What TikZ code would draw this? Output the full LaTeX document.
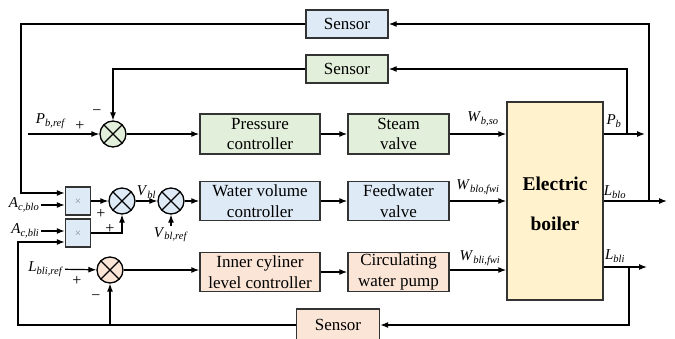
\documentclass[tikz,border=0pt]{standalone}
\usepackage{fontspec}
\setmainfont{Liberation Serif}
\usetikzlibrary{arrows.meta}

\newcommand{\sig}[2]{\textit{#1}\textsubscript{\textit{#2}}}

\definecolor{boxgreen}{RGB}{226,239,218}
\definecolor{boxblue}{RGB}{222,235,247}
\definecolor{boxorange}{RGB}{251,229,214}
\definecolor{boxyellow}{RGB}{255,242,204}

\begin{document}
\begin{tikzpicture}[x=1pt, y=-1pt, line width=1.2pt, >={Latex[length=8pt,width=6pt]},
		blk/.style={draw=black!80, line width=1.4pt, align=center, inner sep=0pt, minimum height=40pt, font=\fontsize{17}{20.5}\selectfont},
		sensor/.style={blk, minimum width=82pt, minimum height=28pt},
		sum/.style={circle, draw, line width=1.3pt, minimum size=26pt, inner sep=0pt,
			path picture={\draw[line width=1.2pt] (path picture bounding box.north west) -- (path picture bounding box.south east)
				(path picture bounding box.north east) -- (path picture bounding box.south west);}},
		mul/.style={draw=black!80, line width=1.4pt, fill=boxblue, minimum width=25pt, minimum height=28pt, inner sep=0pt, font=\small\color{black!60}},
		lbl/.style={font=\fontsize{15}{17}\selectfont, inner sep=1pt},
		sgn/.style={font=\fontsize{16}{16}\selectfont, inner sep=0pt}]
	\useasboundingbox (0,0) rectangle (675,338);

	\node[sensor, fill=boxblue] (sens1) at (347,24) {Sensor};
	\node[sensor, fill=boxgreen] (sens2) at (347,69) {Sensor};
	\node[sensor, fill=boxorange, minimum width=83pt, minimum height=32pt] (sens3) at (338,325) {Sensor};

	\node[blk, fill=boxyellow, minimum width=96pt, minimum height=198pt] (boiler) at (555,201) {};
	\node[font=\fontsize{19.5}{40}\selectfont\bfseries, align=center] (boilertxt) at (555,204) {Electric\\boiler};

	\node[sum, fill=boxgreen] (sum1) at (113,134) {};
	\node[blk, fill=boxgreen, minimum width=120pt] (pc) at (260,134) {Pressure\\controller};
	\node[blk, fill=boxgreen, minimum width=101pt] (sv) at (398.5,134) {Steam\\valve};

	\node[mul] (mul1) at (78,201) {$\times$};
	\node[mul] (mul2) at (78,233) {$\times$};
	\node[sum, fill=boxblue] (sum2) at (122,201) {};
	\node[sum, fill=boxblue] (sum3) at (171,201) {};
	\node[blk, fill=boxblue, minimum width=120pt, minimum height=39pt] (wvc) at (260,201) {Water volume\\controller};
	\node[blk, fill=boxblue, minimum width=101pt, minimum height=39pt] (fv) at (398.5,201) {Feedwater\\valve};

	\node[sum, fill=boxorange] (sum4) at (110,270) {};
	\node[blk, fill=boxorange, minimum width=120pt, minimum height=39pt] (icl) at (260,272) {Inner cyliner\\level controller};
	\node[blk, fill=boxorange, minimum width=101pt, minimum height=39pt] (cwp) at (398.5,272) {Circulating\\water pump};

	\coordinate (pin) at (28,134);
	\coordinate (pbout) at (645,134);
	\coordinate (lbloout) at (667,201);
	\coordinate (lbliout) at (647,267);
	\coordinate (tap1) at (627,134);
	\coordinate (tap2) at (649,201);
	\coordinate (tap3) at (629,267);
	\coordinate (fb1) at (21,193);
	\coordinate (fb3) at (18,325);

	\node[lbl] (pref) at (51,121) {\sig{P}{b,ref}};
	\node[lbl, anchor=east] (acblo) at (41,205) {\sig{A}{c,blo}};
	\node[lbl, anchor=east] (acbli) at (41,231) {\sig{A}{c,bli}};
	\node[lbl, anchor=east] (lref) at (65,269) {\sig{L}{bli,ref}};
	\node[lbl, anchor=north] (vref) at (171,226) {\sig{V}{bl,ref}};

	\node[lbl] (wbso) at (483,119) {\sig{W}{b,so}};
	\node[lbl] (wblo) at (478,187) {\sig{W}{blo,fwi}};
	\node[lbl] (wbli) at (480,258) {\sig{W}{bli,fwi}};
	\node[lbl] (pb) at (614,121) {\sig{P}{b}};
	\node[lbl] (lblo) at (615,192) {\sig{L}{blo}};
	\node[lbl] (lbli) at (615,256) {\sig{L}{bli}};

	\node[sgn] (s1p) at (80,126) {+};
	\node[sgn] (s1m) at (97,113) {\textminus};
	\node[sgn] (s2p) at (101,214) {+};
	\node[sgn] (s2q) at (110,229) {+};
	\node[sgn] (s4p) at (77,281) {+};
	\node[sgn] (s4m) at (96,298) {\textminus};

	\draw[->] (pin) -- (sum1);
	\draw[->] (sum1) -- (pc);
	\draw[->] (pc) -- (sv);
	\draw[->] (sv.east) -- (sv.east -| boiler.west);
	\draw[->] (boiler.east |- pbout) -- (pbout);
	\draw[->] (tap1) |- (sens2.east);
	\draw[->] (sens2.west) -| (sum1.north);

	\draw[->] (boiler.east |- lbloout) -- (lbloout);
	\draw[->] (tap2) |- (sens1.east);
	\draw[->] (sens1.west) -| (fb1) -- (fb1 -| mul1.west);
	\draw[->] (acblo) -- (acblo -| mul1.west);
	\draw[->] (acbli) -- (acbli -| mul2.west);
	\draw[->] (mul1) -- (sum2);
	\draw[->] (mul2.east) -| (sum2.south);
	\draw[->] (sum2) -- (sum3) node[lbl, midway, above=1pt] (vbl) {\sig{V}{bl}};
	\draw[->] (vref) -- (sum3.south);
	\draw[->] (sum3) -- (wvc);
	\draw[->] (wvc) -- (fv);
	\draw[->] (fv.east) -- (fv.east -| boiler.west);

	\draw[->] (lref) -- (sum4);
	\draw[->] (sum4.east) -- (sum4.east -| icl.west);
	\draw[->] (icl) -- (cwp);
	\draw[->] (cwp.east |- sum4) -- (boiler.west |- sum4);
	\draw[->] (boiler.east |- lbliout) -- (lbliout);
	\draw[->] (tap3) |- (sens3.east);
	\draw[->] (sens3.west) -- (fb3) |- ([yshift=-9pt]mul2.west);
	\draw[->] (sum4 |- fb3) -- (sum4.south);
\end{tikzpicture}
\end{document}
